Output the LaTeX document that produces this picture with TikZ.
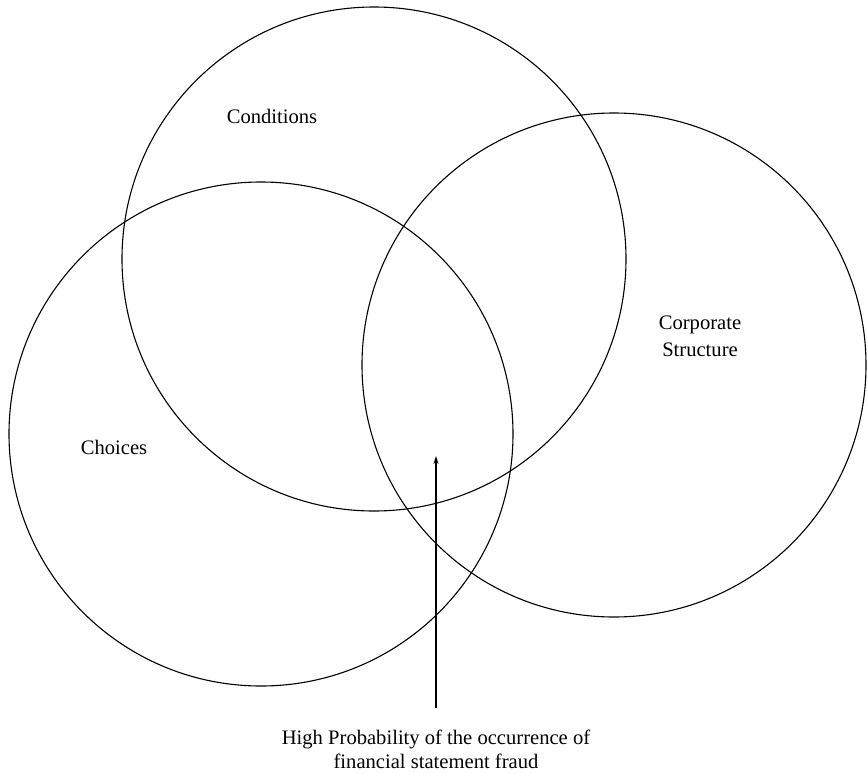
\documentclass[tikz,border=0pt]{standalone}
\usepackage{fontspec}
\setmainfont{Liberation Serif}
\usetikzlibrary{arrows.meta}
\begin{document}
\begin{tikzpicture}[x=1pt,y=-1pt,
  setcircle/.style={draw, circle, line width=1.1pt, minimum size=504pt, inner sep=0pt},
  lbl/.style={font=\fontsize{20.6}{27}\selectfont, align=center, inner sep=0pt}]
\useasboundingbox (0,0) rectangle (868,774);
% the three overlapping sets
\node[setcircle] (conditions) at (374,259) {};
\node[setcircle] (choices) at (261,434) {};
\node[setcircle] (corporate) at (614,365) {};
% set labels
\node[lbl] (condlabel) at (272,116) {Conditions};
\node[lbl] (choicelabel) at (114,447) {Choices};
\node[lbl] (corplabel) at (700,336) {Corporate\\Structure};
% caption for the common region
\node[lbl, anchor=north, font=\fontsize{20.6}{24}\selectfont] (fraud) at (436,730)
  {High Probability of the occurrence of\\financial statement fraud};
\coordinate (tail) at (436,708);
\coordinate (core) at (436,456);
\draw[line width=1.1pt, -{Stealth[length=8pt,width=5pt]}] (tail) -- (core);
\end{tikzpicture}
\end{document}
